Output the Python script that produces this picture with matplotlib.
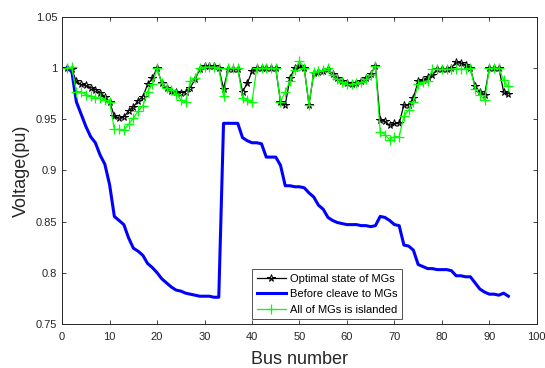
import numpy as np
import matplotlib
matplotlib.use("Agg")
import matplotlib.pyplot as plt

plt.rcParams['font.family'] = ['Liberation Sans', 'DejaVu Sans']

# bus numbers 1..94
bus = np.arange(1, 95)

# voltage with optimal MG states
optimal = [1.000, 0.999, 0.987, 0.984, 0.983, 0.981, 0.979, 0.976, 0.972, 0.967,
           0.953, 0.951, 0.952, 0.958, 0.962, 0.968, 0.972, 0.984, 0.990, 1.000,
           0.985, 0.981, 0.978, 0.977, 0.976, 0.977, 0.981, 0.989, 0.999, 1.002,
           1.002, 1.002, 1.000, 0.980, 0.999, 0.999, 0.999, 0.977, 0.985, 0.997,
           1.000, 1.000, 1.000, 1.000, 1.000, 0.967, 0.964, 0.990, 1.000, 1.002,
           1.000, 0.964, 0.995, 0.996, 0.997, 0.999, 0.994, 0.990, 0.987, 0.985,
           0.984, 0.985, 0.987, 0.990, 0.994, 1.002, 0.949, 0.948, 0.944, 0.946,
           0.946, 0.964, 0.964, 0.971, 0.987, 0.988, 0.991, 0.993, 0.999, 0.999,
           0.999, 1.000, 1.006, 1.005, 1.003, 1.000, 0.982, 0.977, 0.974, 1.000,
           1.000, 1.000, 0.977, 0.975]

# voltage before cleaving into MGs
before = [1.000, 0.998, 0.967, 0.955, 0.943, 0.933, 0.927, 0.915, 0.906, 0.886,
          0.855, 0.851, 0.847, 0.834, 0.824, 0.821, 0.817, 0.809, 0.805, 0.800,
          0.794, 0.790, 0.786, 0.783, 0.782, 0.780, 0.779, 0.778, 0.777, 0.777,
          0.777, 0.776, 0.776, 0.946, 0.946, 0.946, 0.946, 0.932, 0.929, 0.927,
          0.927, 0.926, 0.913, 0.913, 0.913, 0.905, 0.885, 0.885, 0.884, 0.884,
          0.883, 0.878, 0.874, 0.866, 0.862, 0.854, 0.851, 0.849, 0.848, 0.847,
          0.847, 0.847, 0.846, 0.846, 0.845, 0.846, 0.855, 0.854, 0.851, 0.847,
          0.846, 0.827, 0.826, 0.822, 0.808, 0.806, 0.804, 0.804, 0.803, 0.803,
          0.803, 0.802, 0.797, 0.797, 0.796, 0.796, 0.790, 0.784, 0.781, 0.779,
          0.779, 0.778, 0.780, 0.777]

# voltage with all MGs islanded
islanded = [1.000, 1.001, 0.977, 0.977, 0.974, 0.973, 0.971, 0.971, 0.969, 0.967,
            0.940, 0.940, 0.939, 0.945, 0.951, 0.958, 0.963, 0.977, 0.984, 1.000,
            0.985, 0.981, 0.979, 0.975, 0.969, 0.967, 0.987, 0.990, 1.000, 1.001,
            1.001, 1.001, 1.000, 0.973, 1.000, 1.000, 1.000, 0.971, 0.969, 0.967,
            1.000, 1.000, 1.000, 1.000, 1.000, 0.967, 0.977, 0.987, 0.998, 1.007,
            1.000, 0.964, 0.996, 0.997, 0.998, 1.000, 0.993, 0.989, 0.986, 0.984,
            0.984, 0.985, 0.986, 0.989, 0.993, 1.002, 0.938, 0.935, 0.930, 0.933,
            0.933, 0.953, 0.959, 0.967, 0.984, 0.986, 0.987, 0.999, 0.999, 0.999,
            0.999, 0.999, 0.999, 0.999, 0.999, 1.000, 0.980, 0.974, 0.969, 1.000,
            1.000, 1.000, 0.988, 0.982]

fig = plt.figure(figsize=(5.45, 3.68), dpi=100)
ax = fig.add_axes([0.114, 0.12, 0.871, 0.834])

ax.plot(bus, optimal, color='black', lw=0.9, marker='*', ms=5.5,
        mfc='none', mec='black', mew=0.7, label='Optimal state of MGs')
ax.plot(bus, before, color=(0, 0, 1), lw=2.2, label='Before cleave to MGs')
ax.plot(bus, islanded, color=(0, 1, 0), lw=0.9, marker='+', ms=6.5,
        mew=0.9, label='All of MGs is islanded')

ax.set_xlim(0, 100)
ax.set_ylim(0.75, 1.05)
ax.set_xticks(np.arange(0, 101, 10))
ax.set_yticks([0.75, 0.8, 0.85, 0.9, 0.95, 1.0, 1.05])
ax.set_yticklabels(['0.75', '0.8', '0.85', '0.9', '0.95', '1', '1.05'])
ax.tick_params(direction='in', top=True, right=True, labelsize=8,
               colors=(0.15, 0.15, 0.15), length=3, width=0.6)
ax.tick_params(axis='x', pad=6)
for s in ax.spines.values():
    s.set_color((0.15, 0.15, 0.15))
    s.set_linewidth(0.7)

ax.set_ylabel('Voltage(pu)', fontsize=13, color=(0.15, 0.15, 0.15), labelpad=4)
ax.set_xlabel('Bus number', fontsize=13, color=(0.15, 0.15, 0.15), labelpad=6)

leg = ax.legend(loc='lower right', bbox_to_anchor=(0.716, 0.015), fontsize=8,
                frameon=True, fancybox=False, edgecolor=(0.15, 0.15, 0.15),
                borderpad=0.4, labelspacing=0.5, handlelength=2.6,
                handletextpad=0.4, borderaxespad=0)
leg.get_frame().set_linewidth(0.7)

fig.savefig('out.png', dpi=100)
